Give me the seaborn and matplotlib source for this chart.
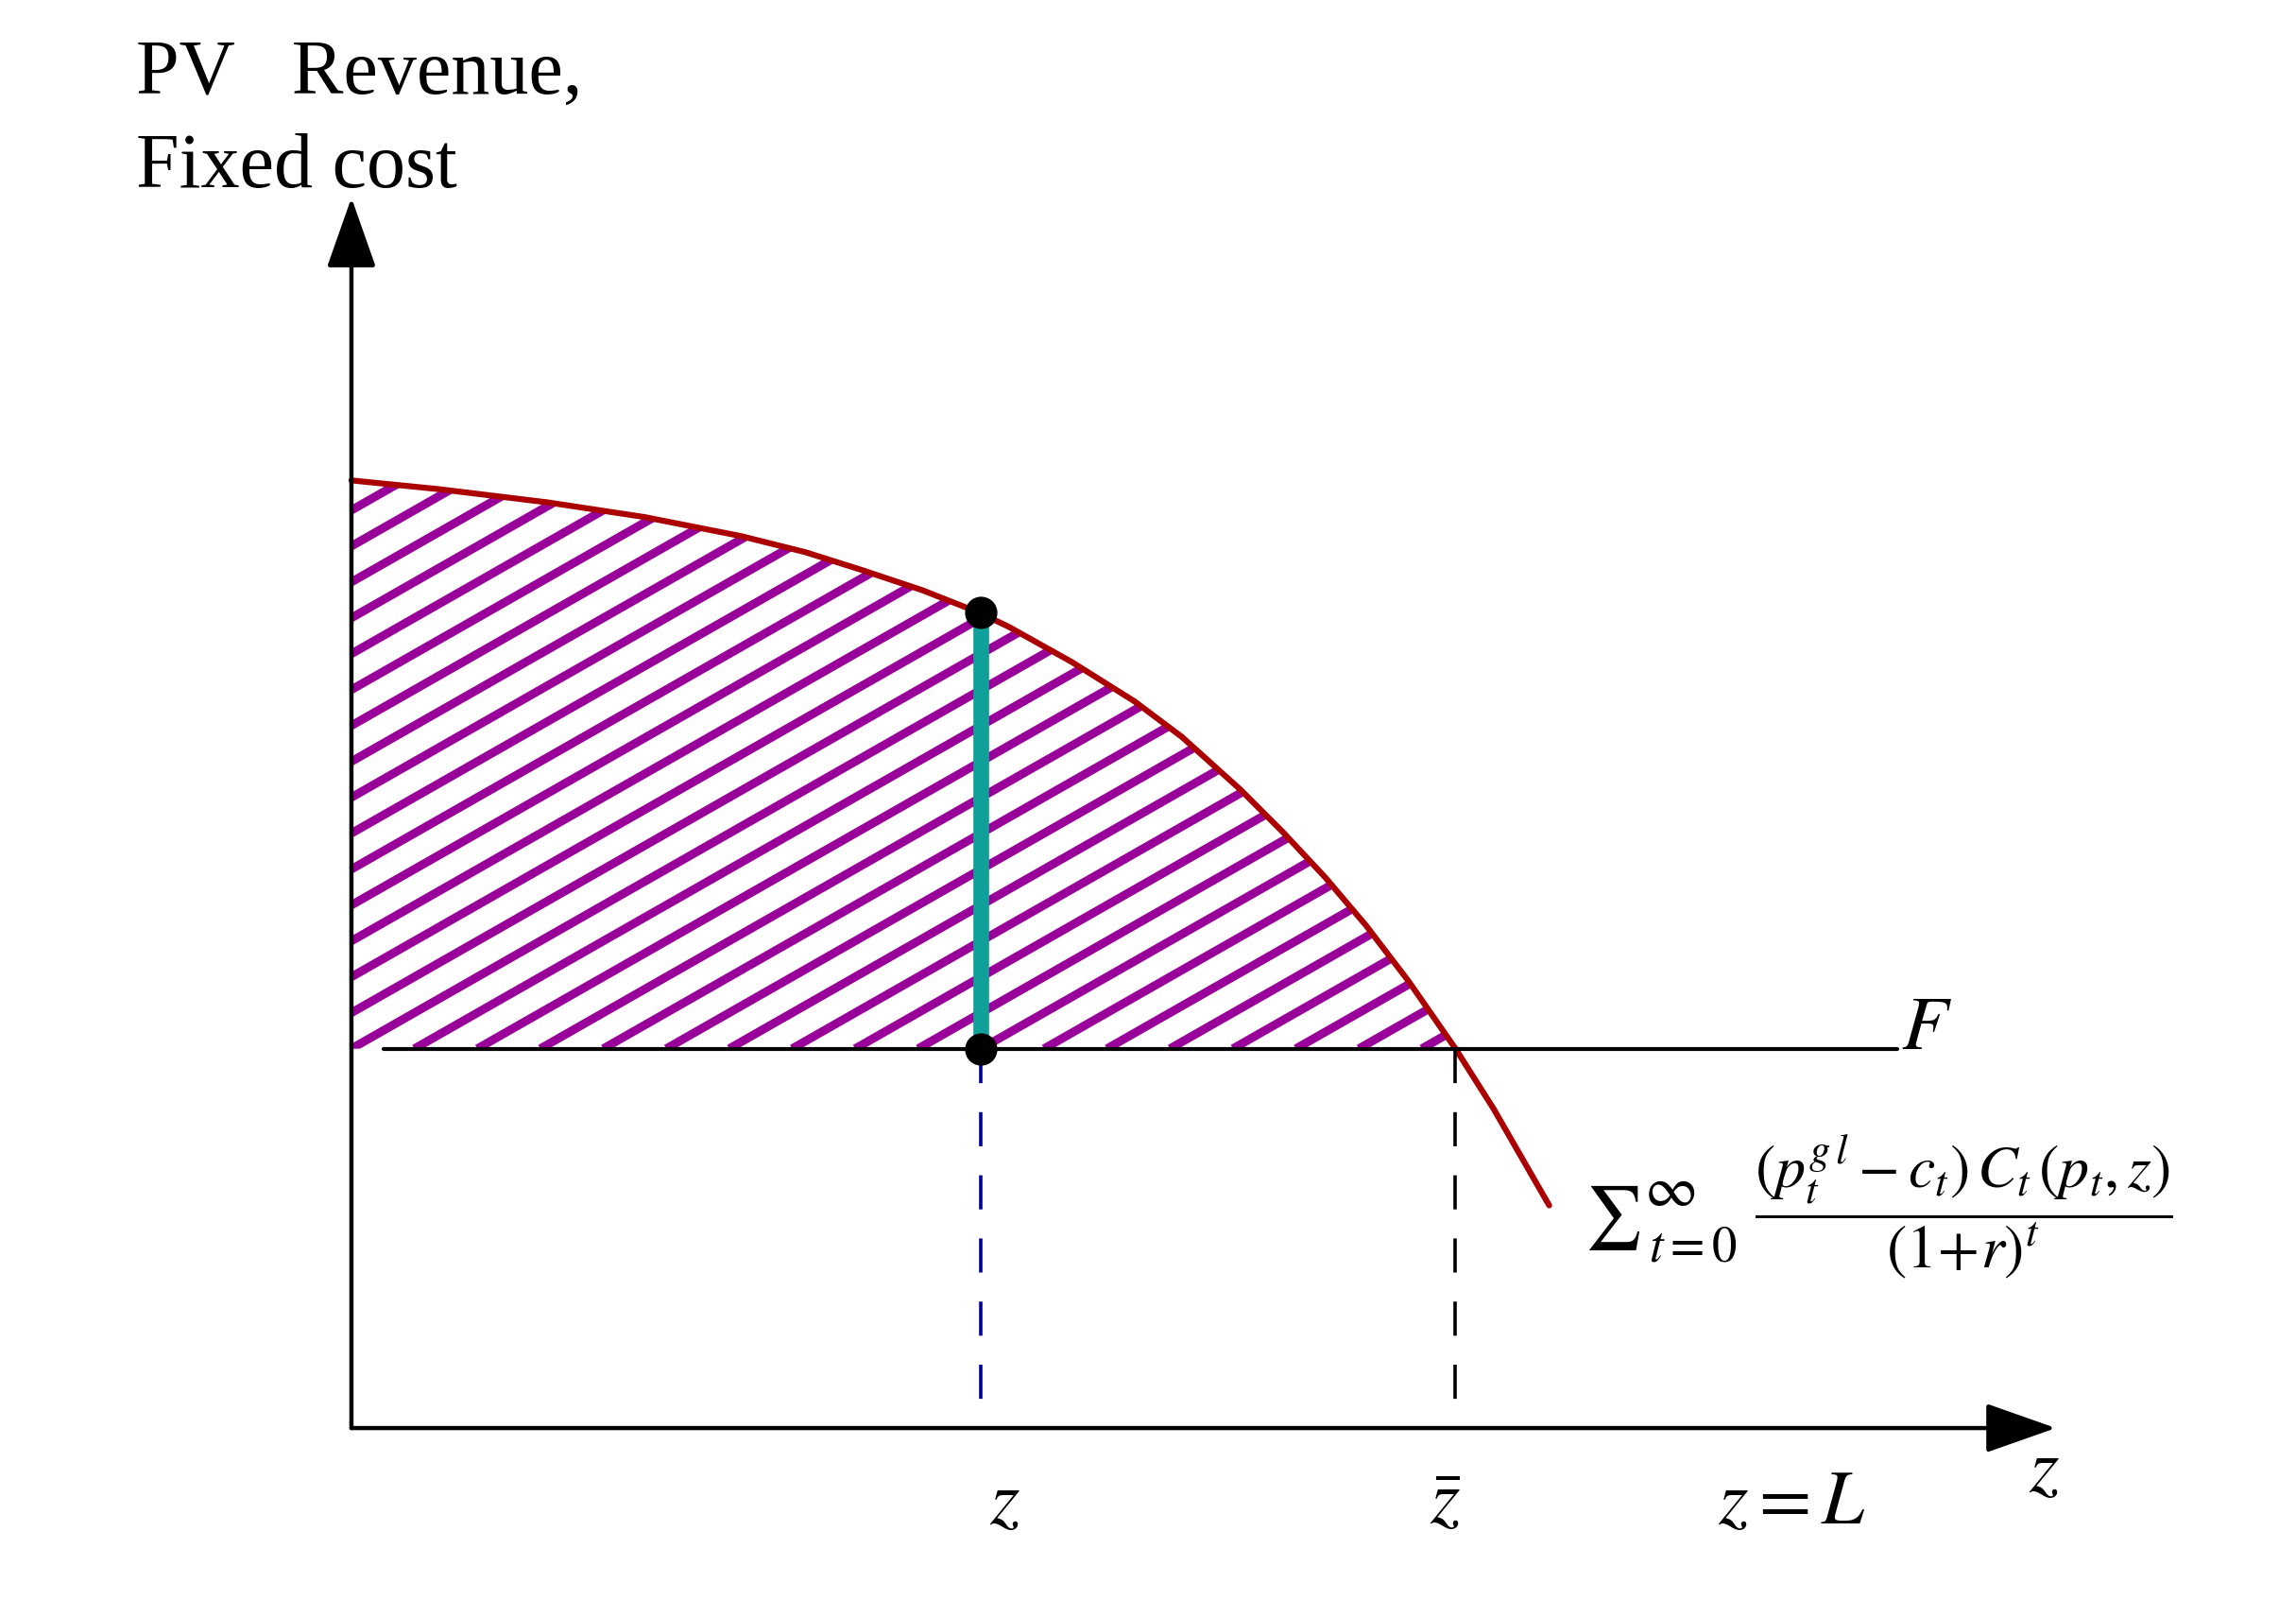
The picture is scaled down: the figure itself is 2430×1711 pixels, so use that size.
import numpy as np
import matplotlib
matplotlib.use("Agg")
import matplotlib.pyplot as plt
import seaborn as sns

# values (arbitrary units, origin at the axes corner)
z_vals = np.array([0, 60, 134, 200, 266, 310, 348, 390, 428, 449, 492, 535,
                   567, 607, 636, 665, 693, 722, 754, 780, 818])
revenue = np.array([647, 641, 632, 622, 609, 598, 586, 572, 557, 547, 523, 496,
                    472, 436, 407, 376, 343, 305, 259, 218, 152])
fixed_cost = 259
z_sel = 430
rev_sel = 557
z_bar = 754
f_line = [22, 1056]
x_axis_end = 1164
y_axis_end = 840

tick_labels = [r"$z$", r"$\bar{z}$", r"$z=L$"]
tick_pos = [446, 747, 984]

sns.set_theme(style="white")
plt.rcParams["font.family"] = ["Liberation Serif", "DejaVu Serif"]
plt.rcParams["mathtext.fontset"] = "stix"
plt.rcParams["text.color"] = "black"

red = "#AA0000"
purple = "#990099"
teal = "#10A09A"
navy = "#000099"

fig = plt.figure(figsize=(24.3, 17.11), dpi=100)
ax = fig.add_axes([0, 0, 1, 1])
ax.set_xlim(-240, 1328)
ax.set_ylim(-129, 975)
ax.axis("off")

# hatched area between revenue curve and fixed cost
poly = ax.fill_between(z_vals, revenue, fixed_cost, where=revenue >= fixed_cost,
                       interpolate=True, facecolor="none", edgecolor="none")
clip = poly.get_paths()[0]
hatch_step = 43
hatch_slope = 0.57
for k in range(-18, 20):
    z0 = k * hatch_step
    zz = np.array([z0, z0 + 1300])
    ln, = ax.plot(zz, fixed_cost + hatch_slope * (zz - z0), color=purple,
                  lw=6.5, solid_capstyle="butt", zorder=1)
    ln.set_clip_path(clip, ax.transData)

# revenue curve
sns.lineplot(x=z_vals, y=revenue, color=red, lw=4.5, ax=ax, zorder=2, sort=False)

# fixed cost line
ax.plot(f_line, [fixed_cost, fixed_cost], color="black", lw=3, zorder=3)

# dashed drop lines
ax.plot([z_sel, z_sel], [fixed_cost, 0], color=navy, lw=2.6,
        dashes=(10, 8.5), zorder=3)
ax.plot([z_bar, z_bar], [fixed_cost, 0], color="black", lw=2.6,
        dashes=(10, 8.5), zorder=3)

# profit segment
ax.plot([z_sel, z_sel], [fixed_cost, rev_sel], color=teal, lw=12,
        solid_capstyle="butt", zorder=4)
sns.scatterplot(x=[z_sel, z_sel], y=[rev_sel, fixed_cost], s=520, color="black",
                edgecolor="black", ax=ax, zorder=5, legend=False)

# axes with arrows
arrow = dict(arrowstyle="-|>,head_length=2.33,head_width=0.82", color="black",
             lw=3.2, shrinkA=0, shrinkB=0, mutation_scale=20)
ax.annotate("", xy=(0, y_axis_end), xytext=(0, 0), arrowprops=arrow)
ax.annotate("", xy=(x_axis_end, 0), xytext=(0, 0), arrowprops=arrow)

# labels
ax.text(-147, 911, "PV   Revenue,", fontsize=59, va="baseline", ha="left")
ax.text(-147, 847, "Fixed cost", fontsize=59, va="baseline", ha="left")
ax.text(1058, fixed_cost, r"$F$", fontsize=58, va="baseline", ha="left")
for lab, pos in zip(tick_labels, tick_pos):
    ax.text(pos, -65, lab, fontsize=58, va="baseline", ha="center")
ax.text(1156, -43, r"$z$", fontsize=58, va="baseline", ha="center")

# revenue formula
ax.text(842, 132, r"$\sum$", fontsize=48, va="baseline", ha="left")
ax.text(883, 152, r"$\infty$", fontsize=44, va="baseline", ha="left")
ax.text(886, 114, r"$t=0$", fontsize=38, va="baseline", ha="left")
ax.text(958, 151,
        r"$\dfrac{(p_t^{g\,l}-c_t)\,C_t\,(p_t,z)}{(1\!+\!r)^t}$",
        fontsize=46, va="center", ha="left")

fig.savefig("out.png", dpi=100)
